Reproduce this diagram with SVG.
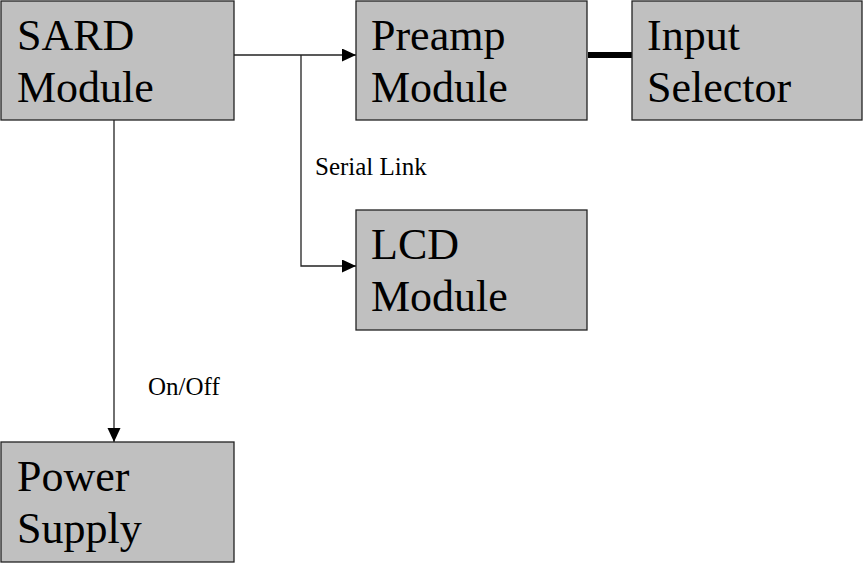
<svg xmlns="http://www.w3.org/2000/svg" width="864" height="563" viewBox="0 0 864 563">
<style>
.box{fill:#c0c0c0;stroke:#222;stroke-width:1.3}
.t{font-family:"Liberation Serif","Times New Roman",serif;font-size:44px;fill:#000}
.s{font-family:"Liberation Serif","Times New Roman",serif;font-size:25px;fill:#000}
.ln{fill:none;stroke:#222;stroke-width:1.3}
</style>
<defs>
<marker id="ah" markerWidth="15" markerHeight="14" refX="14" refY="6.5" orient="auto" markerUnits="userSpaceOnUse">
<path d="M0,0 L14,6.5 L0,13 Z" fill="#000"/>
</marker>
</defs>
<rect width="864" height="563" fill="#fff"/>
<g id="connectors">
<path class="ln" d="M234,55 H356" marker-end="url(#ah)"/>
<path class="ln" d="M301,55 V266 H356" marker-end="url(#ah)"/>
<path class="ln" d="M114,120 V442" marker-end="url(#ah)"/>
<path d="M588,55 H632" stroke="#000" stroke-width="6"/>
<text class="s" x="315" y="175">Serial Link</text>
<text class="s" x="148" y="395">On/Off</text>
</g>
<g id="sard">
<rect class="box" x="1" y="1" width="233" height="119"/>
<text class="t" x="17" y="50">SARD</text>
<text class="t" x="17" y="102">Module</text>
</g>
<g id="preamp">
<rect class="box" x="356" y="1" width="231" height="119"/>
<text class="t" x="371" y="50">Preamp</text>
<text class="t" x="371" y="102">Module</text>
</g>
<g id="input">
<rect class="box" x="632" y="1" width="230" height="119"/>
<text class="t" x="647" y="50">Input</text>
<text class="t" x="647" y="102">Selector</text>
</g>
<g id="lcd">
<rect class="box" x="356" y="210" width="231" height="120"/>
<text class="t" x="371" y="259">LCD</text>
<text class="t" x="371" y="311">Module</text>
</g>
<g id="power">
<rect class="box" x="1" y="442" width="233" height="120"/>
<text class="t" x="17" y="491">Power</text>
<text class="t" x="17" y="543">Supply</text>
</g>
</svg>
